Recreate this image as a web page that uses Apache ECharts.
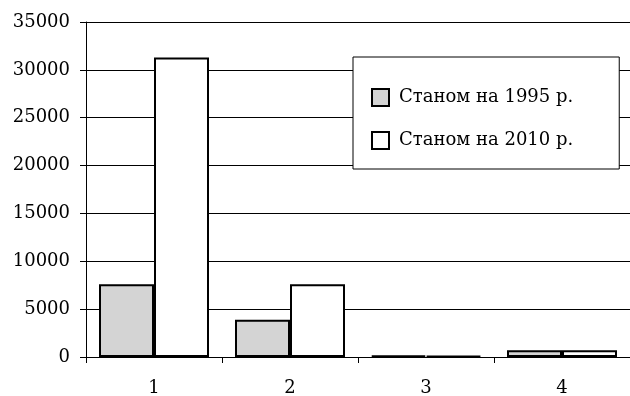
<!DOCTYPE html>
<html><head><meta charset="utf-8">
<script src="https://cdn.jsdelivr.net/npm/echarts@6/dist/echarts.min.js"></script>
<style>html,body{margin:0;padding:0;background:#fff}#c{width:630px;height:396px}</style>
</head><body><div id="c"></div>
<script>
const categories = ['1', '2', '3', '4'];
const seriesNames = ['Станом на 1995 р.', 'Станом на 2010 р.'];
const values1995 = [7600, 3900, 150, 700];
const values2010 = [31300, 7600, 120, 700];
const yTicks = [0, 5000, 10000, 15000, 20000, 25000, 30000, 35000];

const font = 'DejaVu Serif';
const chart = echarts.init(document.getElementById('c'), null, {renderer: 'canvas'});
chart.setOption({
  animation: false,
  backgroundColor: '#fff',
  textStyle: {fontFamily: font, color: '#000'},
  grid: {left: 86, right: 0, top: 22, bottom: 39, containLabel: false, outerBoundsMode: 'none'},
  legend: {
    data: seriesNames,
    orient: 'vertical',
    left: 353, top: 57,
    backgroundColor: '#fff',
    borderColor: '#000', borderWidth: 1,
    padding: [31, 46, 19, 18],
    itemGap: 24,
    itemWidth: 17, itemHeight: 17,
    icon: 'rect',
    textStyle: {fontFamily: font, fontSize: 18, color: '#000', padding: [0, 0, 0, 5]}
  },
  xAxis: {
    type: 'category',
    data: categories,
    axisLine: {lineStyle: {color: '#000', width: 1}},
    axisTick: {show: true, length: 6, lineStyle: {color: '#000'}},
    axisLabel: {fontFamily: font, fontSize: 18, color: '#000', margin: 22}
  },
  yAxis: {
    type: 'value',
    min: yTicks[0], max: yTicks[yTicks.length - 1], interval: 5000,
    axisLine: {show: true, lineStyle: {color: '#000', width: 1}},
    axisTick: {show: true, length: 6, lineStyle: {color: '#000'}},
    axisLabel: {fontFamily: font, fontSize: 18, color: '#000', margin: 16,
      formatter: v => String(v)},
    splitLine: {show: true, lineStyle: {color: '#000', width: 1}}
  },
  series: [
    {name: seriesNames[0], type: 'bar', data: values1995, barWidth: 55, barGap: '0%',
     itemStyle: {color: '#d4d4d4', borderColor: '#000', borderWidth: 2}},
    {name: seriesNames[1], type: 'bar', data: values2010, barWidth: 55, barGap: '0%',
     itemStyle: {color: '#fff', borderColor: '#000', borderWidth: 2}}
  ]
});
</script></body></html>
